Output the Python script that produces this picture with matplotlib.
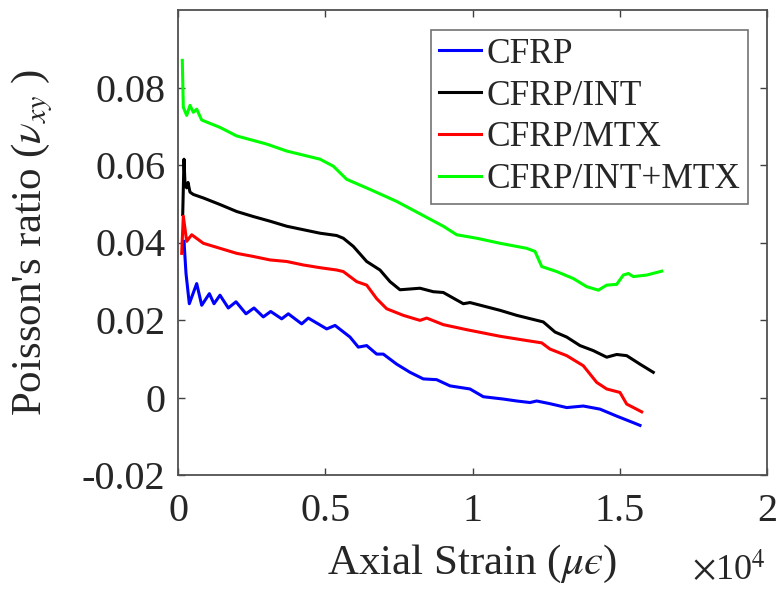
import matplotlib
matplotlib.use("Agg")
import matplotlib.pyplot as plt

plt.rcParams['font.family'] = ['Liberation Serif', 'DejaVu Serif']
plt.rcParams['mathtext.fontset'] = 'stix'

# ---- data (x: axial strain in microstrain, y: Poisson's ratio) ----
cfrp_x = [204, 272, 384, 635, 805, 1065, 1223, 1426, 1708, 1970, 2309, 2580, 2896, 3148,
          3521, 3746, 4200, 4425, 5049, 5333, 5840, 6122, 6407, 6747, 6971, 7426, 7878,
          8329, 8784, 9236, 9915, 10367, 11046, 11501, 11952, 12180, 12631, 13199, 13762,
          14329, 14896, 15461, 15688]
cfrp_y = [0.0403, 0.0320, 0.0242, 0.0294, 0.0238, 0.0268, 0.0242, 0.0264, 0.0231, 0.0247,
          0.0216, 0.0231, 0.0208, 0.0222, 0.0203, 0.0216, 0.0190, 0.0205, 0.0177, 0.0186,
          0.0156, 0.0130, 0.0134, 0.0112, 0.0112, 0.0086, 0.0065, 0.0048, 0.0046, 0.0030,
          0.0022, 0.0002, -0.0004, -0.0009, -0.0013, -0.0009, -0.0016, -0.0026, -0.0022,
          -0.0030, -0.0048, -0.0065, -0.0072]

int_x = [160, 204, 238, 295, 340, 407, 520, 859, 1426, 1993, 2557, 3124, 3691, 4255, 4822,
         5389, 5613, 5953, 6407, 6859, 7199, 7538, 8217, 8669, 9008, 9688, 9915, 10934,
         11501, 12404, 12801, 13199, 13650, 14102, 14557, 14896, 15236, 15688, 16139]
int_y = [0.0472, 0.0615, 0.0550, 0.0541, 0.0555, 0.0530, 0.0524, 0.0515, 0.0498, 0.0480,
         0.0467, 0.0455, 0.0442, 0.0433, 0.0424, 0.0418, 0.0411, 0.0390, 0.0351, 0.0329,
         0.0299, 0.0278, 0.0282, 0.0273, 0.0271, 0.0242, 0.0245, 0.0225, 0.0212, 0.0195,
         0.0169, 0.0156, 0.0134, 0.0121, 0.0104, 0.0111, 0.0108, 0.0086, 0.0065]

mtx_x = [126, 180, 295, 465, 859, 1426, 1993, 2557, 3124, 3691, 4255, 4822, 5389, 5613,
         6068, 6407, 6747, 7087, 7650, 8217, 8445, 9008, 9803, 10934, 11840, 12350, 12631,
         13199, 13762, 14217, 14557, 15008, 15236, 15745]
mtx_y = [0.0372, 0.0468, 0.0403, 0.0420, 0.0398, 0.0385, 0.0372, 0.0364, 0.0355, 0.0351,
         0.0342, 0.0335, 0.0329, 0.0325, 0.0299, 0.0290, 0.0255, 0.0229, 0.0212, 0.0199,
         0.0205, 0.0188, 0.0175, 0.0158, 0.0147, 0.0141, 0.0125, 0.0108, 0.0082, 0.0039,
         0.0022, 0.0013, -0.0017, -0.0037]

intmtx_x = [146, 180, 295, 407, 520, 635, 805, 1426, 1993, 3012, 3691, 4822, 5273, 5728,
            6520, 7426, 8217, 9008, 9463, 10143, 10934, 11840, 12122, 12350, 12859, 13423,
            13878, 14272, 14557, 14896, 15121, 15291, 15461, 15915, 16424]
intmtx_y = [0.0870, 0.0749, 0.0728, 0.0754, 0.0736, 0.0744, 0.0716, 0.0697, 0.0675, 0.0654,
            0.0636, 0.0615, 0.0597, 0.0563, 0.0537, 0.0506, 0.0474, 0.0442, 0.0420, 0.0411,
            0.0398, 0.0385, 0.0377, 0.0338, 0.0325, 0.0307, 0.0286, 0.0277, 0.0290, 0.0292,
            0.0316, 0.0320, 0.0312, 0.0316, 0.0326]

labels = ['CFRP', 'CFRP/INT', 'CFRP/MTX', 'CFRP/INT+MTX']
colors = ['#0000ff', '#000000', '#ff0000', '#00ff00']

xticks = [0, 5000, 10000, 15000, 20000]
xtick_labels = ['0', '0.5', '1', '1.5', '2']
yticks = [-0.02, 0, 0.02, 0.04, 0.06, 0.08]
ytick_labels = ['-0.02', '0', '0.02', '0.04', '0.06', '0.08']
x_offset_label = r'$\times$10$^4$'

fig = plt.figure(figsize=(7.77, 5.90), dpi=100)
ax = fig.add_axes([178/777, 115/590, 589/777, 465/590])

series = [(cfrp_x, cfrp_y), (int_x, int_y), (mtx_x, mtx_y), (intmtx_x, intmtx_y)]
for (xs, ys), lab, col in zip(series, labels, colors):
    ax.plot(xs, ys, color=col, lw=2.2, label=lab)

ax.set_xlim(0, 20000)
ax.set_ylim(-0.02, 0.1)
ax.set_xticks(xticks)
ax.set_xticklabels(xtick_labels)
ax.set_yticks(yticks)
ax.set_yticklabels(ytick_labels)

ax.tick_params(direction='in', length=5, width=1.0, colors='#404040',
               labelcolor='#262626', labelsize=29, top=True, right=True)
ax.tick_params(axis='x', pad=13)
ax.tick_params(axis='y', pad=9)
for s in ax.spines.values():
    s.set_color('#505050')
    s.set_linewidth(1.3)

fig.text(766/777, 1 - 581/590, x_offset_label, fontsize=26, color='#262626',
         ha='right', va='baseline')

ax.set_xlabel('Axial Strain ($\\mu\u03f5$)', fontsize=31, color='#262626', labelpad=9)
ax.set_ylabel(r"Poisson's ratio ($\nu_{xy}$ )", fontsize=31, color='#262626', labelpad=19)

leg = ax.legend(loc='upper right', bbox_to_anchor=(748/777, 1 - 30/590),
                bbox_transform=fig.transFigure, borderaxespad=0, fontsize=25.5,
                handlelength=1.2, handletextpad=0.15, labelspacing=0.25,
                borderpad=0.22, fancybox=False, frameon=True)
leg.get_frame().set_edgecolor('#505050')
leg.get_frame().set_linewidth(1.2)
for t in leg.get_texts():
    t.set_color('#262626')

fig.savefig('out.png', dpi=100)
